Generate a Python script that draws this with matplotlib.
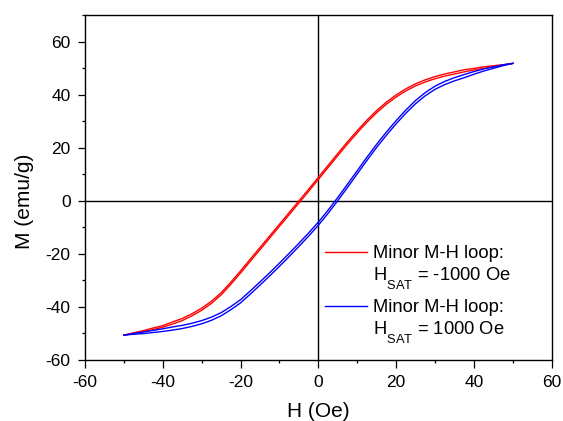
import matplotlib
matplotlib.use("Agg")
import matplotlib.pyplot as plt
import matplotlib._mathtext as _mathtext
from matplotlib.ticker import MultipleLocator
from matplotlib.legend_handler import HandlerLine2D

plt.rcParams["font.family"] = ["Liberation Sans", "DejaVu Sans"]
plt.rcParams["mathtext.fontset"] = "custom"
plt.rcParams["mathtext.rm"] = "Liberation Sans"
plt.rcParams["axes.unicode_minus"] = False
# Origin-style subscripts sit lower than mathtext's default
_mathtext.FontConstantsBase.sub1 = 0.9

# ── data (H in Oe, M in emu/g) ──────────────────────────────────────────────
H = [-50, -47.5, -45, -42.5, -40, -37.5, -35, -32.5, -30, -27.5, -25,
     -22.5, -20, -17.5, -15, -12.5, -10, -7.5, -5, -2.5, 0,
     2.5, 5, 7.5, 10, 12.5, 15, 17.5, 20, 22.5, 25,
     27.5, 30, 32.5, 35, 37.5, 40, 42.5, 45, 47.5, 50]

# loop after -1000 Oe saturation: descending / ascending branch
red_desc = [-50.8, -49.9, -49.1, -48.1, -47.2, -45.8, -44.5, -42.7, -40.6, -38.0, -34.8,
            -30.8, -26.5, -22.1, -17.7, -13.3, -8.9, -4.5, -0.1, 4.3, 8.8,
            13.3, 17.8, 22.2, 26.4, 30.4, 34.0, 37.2, 39.9, 42.2, 44.1,
            45.6, 46.8, 47.8, 48.6, 49.4, 49.9, 50.5, 50.9, 51.3, 51.8]
red_asc = [-50.8, -50.1, -49.5, -48.7, -47.8, -46.6, -45.3, -43.5, -41.4, -38.8, -35.6,
           -31.6, -27.3, -22.9, -18.5, -14.1, -9.7, -5.3, -0.9, 3.5, 8.0,
           12.5, 17.0, 21.4, 25.6, 29.6, 33.2, 36.4, 39.1, 41.4, 43.3,
           44.8, 46.0, 47.0, 47.8, 48.6, 49.3, 49.9, 50.5, 51.1, 51.8]

# loop after +1000 Oe saturation: descending / ascending branch
blue_desc = [-50.8, -50.15, -49.6, -49.0, -48.4, -47.7, -47.1, -46.3, -45.3, -44.0, -42.3,
             -40.0, -37.4, -34.1, -30.7, -27.2, -23.6, -19.9, -16.1, -12.2, -8.1,
             -3.6, 1.2, 6.2, 11.3, 16.4, 21.3, 25.9, 30.2, 34.2, 37.8,
             40.8, 43.2, 45.0, 46.4, 47.6, 48.7, 49.7, 50.5, 51.25, 51.8]
blue_asc = [-50.8, -50.45, -50.2, -49.8, -49.4, -48.9, -48.3, -47.5, -46.5, -45.2, -43.5,
            -41.2, -38.6, -35.3, -31.9, -28.4, -24.8, -21.1, -17.3, -13.4, -9.3,
            -4.8, 0.0, 5.0, 10.1, 15.2, 20.1, 24.7, 29.0, 33.0, 36.6,
            39.6, 42.0, 43.8, 45.2, 46.4, 47.7, 48.9, 49.9, 50.95, 51.8]

labels = ["Minor M-H loop:\nH$_{\\mathrm{SAT}}$ = -1000 Oe",
          "Minor M-H loop:\nH$_{\\mathrm{SAT}}$ = 1000 Oe"]

x_ticks = [-60, -40, -20, 0, 20, 40, 60]
y_ticks = [-60, -40, -20, 0, 20, 40, 60]


class FirstLineHandler(HandlerLine2D):
    """Put the legend line level with the first line of a two-line label."""
    def create_artists(self, legend, orig_handle, xdescent, ydescent,
                       width, height, fontsize, trans):
        return super().create_artists(legend, orig_handle, xdescent,
                                      ydescent - 1.75 * fontsize,
                                      width, height, fontsize, trans)


# ── figure ──────────────────────────────────────────────────────────────────
fig = plt.figure(figsize=(5.63, 4.21), dpi=100)
ax = fig.add_axes([0.151, 0.146, 0.829, 0.818])

ax.axhline(0, color="black", lw=1.0, zorder=1)
ax.axvline(0, color="black", lw=1.0, zorder=1)

red_line, = ax.plot(H[::-1], red_desc[::-1], color="red", lw=1.0, zorder=2)
ax.plot(H, red_asc, color="red", lw=1.0, zorder=2)
blue_line, = ax.plot(H[::-1], blue_desc[::-1], color="blue", lw=1.0, zorder=3)
ax.plot(H, blue_asc, color="blue", lw=1.0, zorder=3)

ax.set_xlim(-60, 60)
ax.set_ylim(-60, 70)
ax.set_xticks(x_ticks)
ax.set_yticks(y_ticks)
ax.xaxis.set_minor_locator(MultipleLocator(10))
ax.yaxis.set_minor_locator(MultipleLocator(10))
ax.tick_params(which="major", direction="out", length=5.4, width=0.9,
               labelsize=12.5, top=False, right=False)
ax.tick_params(axis="x", which="major", pad=5.5)
ax.tick_params(axis="y", which="major", pad=5)
ax.tick_params(which="minor", direction="out", length=2.5, width=0.9,
               top=False, right=False)
for sp in ax.spines.values():
    sp.set_linewidth(1.0)

ax.set_xlabel("H (Oe)", fontsize=15)
ax.set_ylabel("M (emu/g)", fontsize=15)
ax.xaxis.set_label_coords(0.5, -0.122)
ax.yaxis.set_label_coords(-0.109, 0.46)

ax.legend([red_line, blue_line], labels, loc="upper left",
          bbox_to_anchor=(0.514, 0.332), frameon=False, fontsize=13.2,
          handlelength=2.29, handletextpad=0.31, labelspacing=0.45,
          borderpad=0, borderaxespad=0,
          handler_map={red_line: FirstLineHandler(),
                       blue_line: FirstLineHandler()})

fig.savefig("out.png", dpi=100)
